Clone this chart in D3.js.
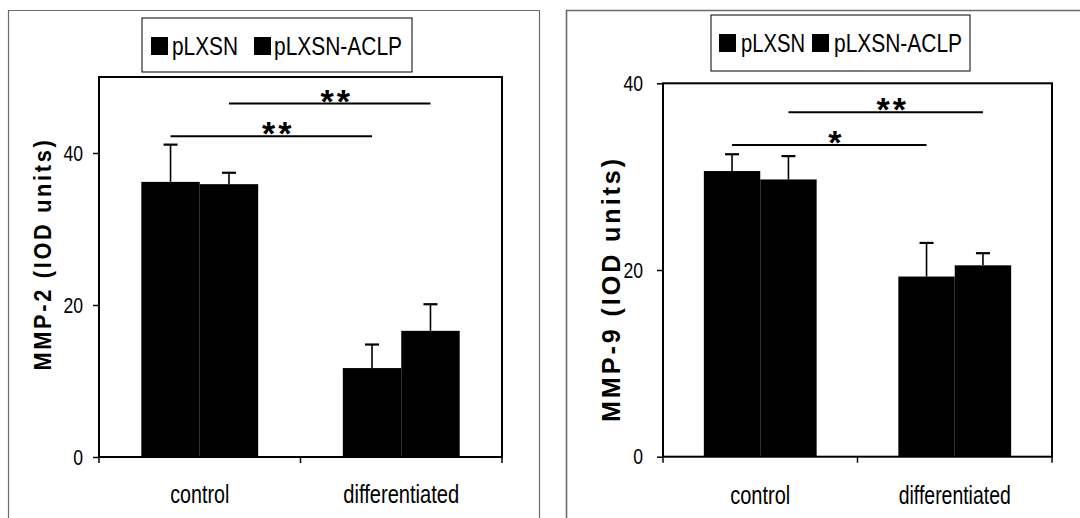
<!DOCTYPE html>
<html>
<head>
<meta charset="utf-8">
<script src="https://cdn.jsdelivr.net/npm/d3@7"></script>
<style>
  html, body { margin: 0; padding: 0; background: #fff; }
  svg { display: block; }
  .narrow { font-family: "Liberation Sans Narrow", "Arial Narrow", "Liberation Sans", Arial, sans-serif; }
</style>
</head>
<body>
<svg id="fig" width="1080" height="518"></svg>
<script>
// ---- data ----
const categories = ["control", "differentiated"];
const seriesNames = ["pLXSN", "pLXSN-ACLP"];

// MMP-2 (IOD units): means and error (SD) per category
const mmp2_pLXSN     = [36.2, 11.7];
const mmp2_pLXSN_err = [4.9, 3.1];
const mmp2_ACLP      = [35.9, 16.6];
const mmp2_ACLP_err  = [1.5, 3.5];

// MMP-9 (IOD units)
const mmp9_pLXSN     = [30.6, 19.3];
const mmp9_pLXSN_err = [1.8, 3.6];
const mmp9_ACLP      = [29.7, 20.5];
const mmp9_ACLP_err  = [2.5, 1.3];

const mmp2Ticks = [0, 20, 40];
const mmp9Ticks = [0, 20, 40];
const mmp2Max = 50;
const mmp9Max = 40;

// significance brackets: [category, series] -> [category, series], level, label
const mmp2Signif = [
  { from: [0, 1], to: [1, 1], level: 46.5, label: "**" },
  { from: [0, 0], to: [1, 0], level: 42.2, label: "**" }
];
const mmp9Signif = [
  { from: [0, 1], to: [1, 1], level: 36.9, label: "**" },
  { from: [0, 0], to: [1, 0], level: 33.4, label: "*" }
];

const svg = d3.select("#fig");

// condensed look: squeeze a label to a width proportional to its length
function condense(sel, size, ratio) {
  sel.attr("font-size", size)
     .attr("lengthAdjust", "spacingAndGlyphs")
     .attr("textLength", function () {
       return this.getComputedTextLength() * ratio;
     });
}

function drawPanel(p) {
  const g = svg.append("g");

  // outer panel frame
  g.append("path")
    .attr("d", p.frame)
    .attr("fill", "none")
    .attr("stroke", "#6a6a6a")
    .attr("stroke-width", p.frameWidth);

  const x0 = d3.scaleBand().domain(categories).range([p.left, p.right]).padding(0);
  const bw = x0.bandwidth();
  const x1 = d3.scaleBand().domain(seriesNames).range([bw * 0.21, bw * 0.79]).padding(0);
  const y = d3.scaleLinear().domain([0, p.yMax]).range([p.bottom, p.top]);

  const rows = [];
  categories.forEach((c, i) => {
    seriesNames.forEach((s, j) => {
      rows.push({ cat: c, ser: s, v: p.values[j][i], e: p.errors[j][i] });
    });
  });
  const cx = (ci, sj) => x0(categories[ci]) + x1(seriesNames[sj]) + x1.bandwidth() / 2;

  // bars
  g.selectAll("rect.bar").data(rows).join("rect")
    .attr("class", "bar")
    .attr("x", d => x0(d.cat) + x1(d.ser))
    .attr("width", x1.bandwidth())
    .attr("y", d => y(d.v))
    .attr("height", d => y(0) - y(d.v))
    .attr("fill", "#000");

  // error bars (upper only)
  const eb = g.selectAll("g.err").data(rows).join("g").attr("class", "err");
  const ex = d => x0(d.cat) + x1(d.ser) + x1.bandwidth() / 2;
  eb.append("line")
    .attr("x1", ex).attr("x2", ex)
    .attr("y1", d => y(d.v))
    .attr("y2", d => y(d.v + d.e))
    .attr("stroke", "#000").attr("stroke-width", 1.6);
  eb.append("line")
    .attr("x1", d => ex(d) - 7)
    .attr("x2", d => ex(d) + 7)
    .attr("y1", d => y(d.v + d.e))
    .attr("y2", d => y(d.v + d.e))
    .attr("stroke", "#000").attr("stroke-width", 2.2);

  // plot frame
  g.append("rect")
    .attr("x", p.left).attr("y", p.top)
    .attr("width", p.right - p.left).attr("height", p.bottom - p.top)
    .attr("fill", "none").attr("stroke", "#000").attr("stroke-width", 2);

  // y axis
  const yAxis = d3.axisLeft(y).tickValues(p.ticks).tickSize(p.tickLen).tickPadding(p.tickPad);
  const ya = g.append("g").attr("transform", `translate(${p.left},0)`).call(yAxis);
  ya.select(".domain").remove();
  ya.selectAll(".tick line").attr("stroke", "#000").attr("stroke-width", 1.5);
  ya.selectAll(".tick text")
    .attr("class", "narrow")
    .attr("fill", "#000")
    .attr("font-family", null)
    .call(condense, 22, 0.8);

  // x axis ticks at band edges
  const edges = [p.left, x0(categories[1]), p.right];
  g.selectAll("line.xt").data(edges).join("line")
    .attr("x1", d => d).attr("x2", d => d)
    .attr("y1", p.bottom).attr("y2", p.bottom + 6)
    .attr("stroke", "#000").attr("stroke-width", 1.5);

  // category labels
  g.selectAll("text.cat").data(categories).join("text")
    .attr("class", "narrow")
    .attr("x", d => x0(d) + bw / 2)
    .attr("y", p.catY)
    .attr("text-anchor", "middle")
    .attr("font-size", 26)
    .attr("textLength", (d, i) => p.catLen[i])
    .attr("lengthAdjust", "spacingAndGlyphs")
    .text(d => d);

  // y axis title
  g.append("text")
    .attr("transform", `translate(${p.titleX},${p.titleY}) rotate(-90)`)
    .attr("class", "narrow")
    .attr("text-anchor", "middle")
    .attr("font-weight", "bold")
    .attr("font-size", p.titleSize)
    .attr("letter-spacing", 3)
    .attr("textLength", p.titleLen)
    .attr("lengthAdjust", "spacingAndGlyphs")
    .text(p.title);

  // significance lines
  p.signif.forEach(s => {
    const xa = cx(s.from[0], s.from[1]);
    const xb = cx(s.to[0], s.to[1]);
    g.append("line")
      .attr("x1", xa).attr("x2", xb)
      .attr("y1", y(s.level)).attr("y2", y(s.level))
      .attr("stroke", "#000").attr("stroke-width", 2);
    g.append("text")
      .attr("x", (xa + xb) / 2 + 7)
      .attr("y", y(s.level) + 9)
      .attr("text-anchor", "middle")
      .attr("font-family", "Liberation Sans, Arial, sans-serif")
      .attr("font-weight", "bold")
      .attr("font-size", 34)
      .attr("letter-spacing", 3)
      .text(s.label);
  });

  // legend
  const lg = g.append("g");
  lg.append("rect")
    .attr("x", p.legend.x).attr("y", p.legend.y)
    .attr("width", p.legend.w).attr("height", p.legend.h)
    .attr("fill", "#fff").attr("stroke", "#000").attr("stroke-width", 1);
  seriesNames.forEach((s, j) => {
    lg.append("rect")
      .attr("x", p.legend.sq[j]).attr("y", p.legend.y + 19)
      .attr("width", 17).attr("height", 18)
      .attr("fill", "#000");
    lg.append("text")
      .attr("class", "narrow")
      .attr("x", p.legend.tx[j]).attr("y", p.legend.y + 37)
      .attr("font-size", 26)
      .attr("textLength", p.legend.tl[j])
      .attr("lengthAdjust", "spacingAndGlyphs")
      .text(s);
  });
}

drawPanel({
  frame: "M8.5,518 V10.5 H539.5 V518",
  frameWidth: 1.2,
  left: 99, right: 502, top: 77, bottom: 457,
  yMax: mmp2Max, ticks: mmp2Ticks, tickLen: 6, tickPad: 10,
  values: [mmp2_pLXSN, mmp2_ACLP], errors: [mmp2_pLXSN_err, mmp2_ACLP_err],
  signif: mmp2Signif,
  catY: 503, catLen: [59, 116],
  title: "MMP-2 (IOD units)", titleX: 51, titleY: 254, titleSize: 24, titleLen: 233,
  legend: { x: 142, y: 18, w: 270, h: 54, sq: [151, 254], tx: [172, 274], tl: [66, 128] }
});

drawPanel({
  frame: "M566.5,518 V10.5 H1080",
  frameWidth: 1.6,
  left: 663, right: 1052, top: 83.3, bottom: 456.7,
  yMax: mmp9Max, ticks: mmp9Ticks, tickLen: 6, tickPad: 14,
  values: [mmp9_pLXSN, mmp9_ACLP], errors: [mmp9_pLXSN_err, mmp9_ACLP_err],
  signif: mmp9Signif,
  catY: 504, catLen: [60, 112],
  title: "MMP-9 (IOD units)", titleX: 620, titleY: 289, titleSize: 26, titleLen: 266,
  legend: { x: 711, y: 15, w: 259, h: 56, sq: [719, 812], tx: [741, 834], tl: [64, 128] }
});
</script>
</body>
</html>
